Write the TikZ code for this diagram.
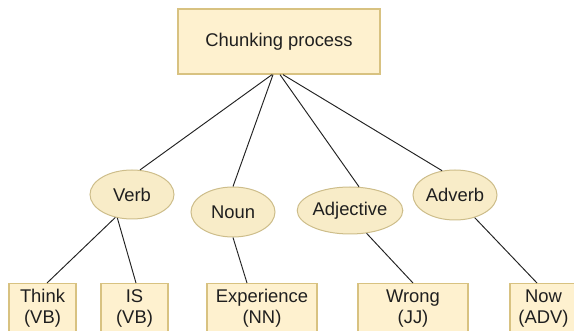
\documentclass[tikz,border=0pt]{standalone}
\usepackage{fontspec}
\setmainfont{Liberation Sans}
\usetikzlibrary{shapes.geometric}
\definecolor{boxfill}{HTML}{FEF1CF}
\definecolor{boxline}{HTML}{D8C281}
\definecolor{ellfill}{HTML}{F8ECC8}
\definecolor{ellline}{HTML}{CDBD8A}
\definecolor{wire}{HTML}{222222}
\begin{document}
\begin{tikzpicture}[x=1pt,y=-1pt,
  every node/.style={font=\fontsize{18.4}{21}\selectfont, text=black!88},
  topbox/.style={draw=boxline, fill=boxfill, line width=1.3pt, inner sep=0pt,
    minimum width=202pt, minimum height=65pt},
  tagbox/.style={draw=boxline, fill=boxfill, line width=1.3pt, inner sep=0pt,
    minimum height=50pt, align=center, anchor=north},
  posnode/.style={ellipse, draw=ellline, fill=ellfill, line width=1pt, inner sep=0pt,
    minimum height=49pt},
  wireline/.style={draw=wire, line width=0.95pt}]
\useasboundingbox (0,0) rectangle (574,331);
\begin{scope}
\clip (0,0) rectangle (574,331);

% root
\node[topbox] (root) at (279,41.5) {Chunking process};

% part-of-speech groups
\node[posnode, minimum width=84pt] (verb) at (132,194.5) {Verb};
\node[posnode, minimum width=84pt, minimum height=50pt] (noun) at (233,212) {Noun};
\node[posnode, minimum width=102pt, minimum height=47pt] (adj) at (350,210.5) {Adjective};
\node[posnode, minimum width=84pt, minimum height=50pt] (adv) at (455,195) {Adverb};

% tagged words
\node[tagbox, minimum width=67pt] (think) at (42.5,283) {Think\\(VB)};
\node[tagbox, minimum width=67pt] (is) at (134.5,283) {IS\\(VB)};
\node[tagbox, minimum width=110pt] (exp) at (262,283) {Experience\\(NN)};
\node[tagbox, minimum width=110pt] (wrong) at (413,283) {Wrong\\(JJ)};
\node[tagbox, minimum width=67pt] (now) at (543.5,283) {Now\\(ADV)};

% connectors
\draw[wireline] ([xshift=-7pt]root.south) -- (verb.72);
\draw[wireline] ([xshift=-6pt]root.south) -- (noun.north);
\draw[wireline] ([xshift=1pt]root.south) -- (adj.69);
\draw[wireline] ([xshift=4pt]root.south) -- (adv.118);

\draw[wireline] (verb.234) -- ([xshift=4.5pt]think.north);
\draw[wireline] (verb.238) -- ([xshift=1.5pt]is.north);
\draw[wireline] (noun.south) -- ([xshift=-15pt]exp.north);
\draw[wireline] (adj.306) -- (wrong.north);
\draw[wireline] (adv.311) -- ([xshift=-6.5pt]now.north);
\end{scope}
\end{tikzpicture}
\end{document}
